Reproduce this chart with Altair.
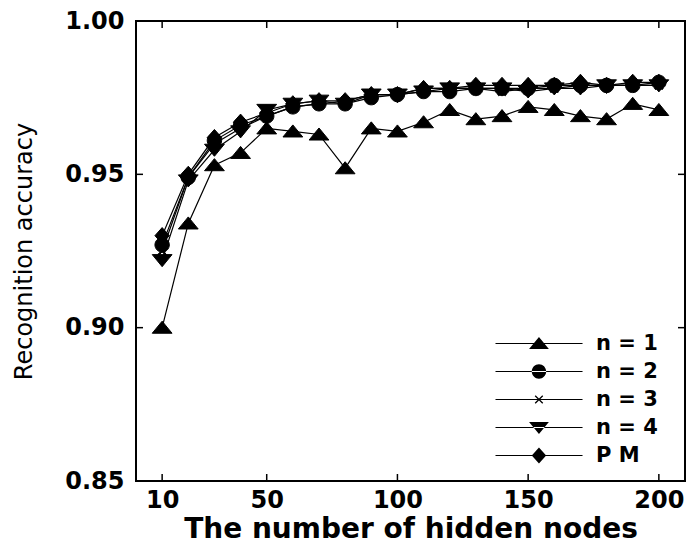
import altair as alt
import pandas as pd

nodes = [10, 20, 30, 40, 50, 60, 70, 80, 90, 100,
         110, 120, 130, 140, 150, 160, 170, 180, 190, 200]
acc_n1 = [0.900, 0.934, 0.953, 0.957, 0.965, 0.964, 0.963, 0.952, 0.965, 0.964,
          0.967, 0.971, 0.968, 0.969, 0.972, 0.971, 0.969, 0.968, 0.973, 0.971]
acc_n2 = [0.927, 0.949, 0.961, 0.966, 0.969, 0.972, 0.973, 0.973, 0.975, 0.976,
          0.977, 0.977, 0.978, 0.978, 0.978, 0.979, 0.979, 0.979, 0.979, 0.980]
acc_n3 = [0.925, 0.949, 0.960, 0.965, 0.969, 0.972, 0.973, 0.974, 0.976, 0.976,
          0.978, 0.978, 0.978, 0.977, 0.978, 0.978, 0.979, 0.979, 0.979, 0.979]
acc_n4 = [0.922, 0.948, 0.958, 0.964, 0.971, 0.973, 0.974, 0.973, 0.976, 0.976,
          0.977, 0.978, 0.978, 0.978, 0.977, 0.978, 0.978, 0.979, 0.979, 0.979]
acc_pm = [0.930, 0.950, 0.962, 0.967, 0.970, 0.973, 0.974, 0.974, 0.976, 0.976,
          0.978, 0.978, 0.979, 0.979, 0.979, 0.979, 0.980, 0.979, 0.980, 0.980]
series_names = ["n = 1", "n = 2", "n = 3", "n = 4", "P M"]
x_ticks = [10, 50, 100, 150, 200]
y_ticks = [0.85, 0.90, 0.95, 1.00]

rows = []
for name, vals in zip(series_names, [acc_n1, acc_n2, acc_n3, acc_n4, acc_pm]):
    for n, v in zip(nodes, vals):
        rows.append({"nodes": n, "acc": v, "series": name})
df = pd.DataFrame(rows)


def shift(path_pts, dx):
    """Closed filled polygon from unit points, shifted by dx."""
    pts = [f"{x + dx:.3f},{y:.3f}" for x, y in path_pts]
    return "M" + "L".join(pts) + "Z"


TRI_UP_P = [(0, -0.72), (1.1, 0.62), (-1.1, 0.62)]
TRI_DOWN_P = [(0, 0.72), (1.1, -0.62), (-1.1, -0.62)]
DIAMOND_P = [(0, -0.9), (0.8, 0), (0, 0.9), (-0.8, 0)]
W = 0.05
XBAR1 = [(-0.42 + W, -0.42 - W), (0.42 + W, 0.42 - W), (0.42 - W, 0.42 + W), (-0.42 - W, -0.42 + W)]
XBAR2 = [(-0.42 - W, 0.42 - W), (0.42 - W, -0.42 - W), (0.42 + W, -0.42 + W), (-0.42 + W, 0.42 + W)]


def circle(cx, r=0.8):
    return (f"M{cx - r:.3f},0A{r},{r} 0 1,0 {cx + r:.3f},0"
            f"A{r},{r} 0 1,0 {cx - r:.3f},0Z")


# marker shapes (unit = sqrt(size)/2)
TRI_UP = shift(TRI_UP_P, 0)
CIRCLE = circle(0)
XMARK = shift(XBAR1, 0) + shift(XBAR2, 0)
TRI_DOWN = shift(TRI_DOWN_P, 0)
DIAMOND = shift(DIAMOND_P, 0)

# legend symbols: thin filled line + marker
MC = 3.83
LN = "M-1,-0.06H8.67V0.06H-1Z"
LEG_PATHS = [
    LN + shift(TRI_UP_P, MC),
    LN + circle(MC),
    LN + shift(XBAR1, MC) + shift(XBAR2, MC),
    LN + shift(TRI_DOWN_P, MC),
    LN + shift(DIAMOND_P, MC),
]

FONT = "DejaVu Sans"

xscale = alt.Scale(domain=[0, 210], nice=False, zero=False)
yscale = alt.Scale(domain=[0.85, 1.0], nice=False, zero=False)

xaxis = alt.Axis(values=x_ticks, ticks=False, domain=False, grid=False,
                 labelFont=FONT, labelFontSize=24, labelFontWeight="bold",
                 labelColor="black", labelPadding=7, labelOverlap=False,
                 labelFlush=False, labelBound=False,
                 title="The number of hidden nodes", titleFont=FONT,
                 titleFontSize=28, titleFontWeight="bold", titleColor="black",
                 titlePadding=3)
yaxis = alt.Axis(values=y_ticks, format=".2f", ticks=False, domain=False,
                 grid=False, labelFont=FONT, labelFontSize=24,
                 labelFontWeight="bold", labelColor="black", labelPadding=12,
                 labelOverlap=False, labelFlush=False, labelBound=False,
                 title="Recognition accuracy", titleFont=FONT,
                 titleFontSize=24, titleFontWeight="normal",
                 titleColor="black", titlePadding=28)

base = alt.Chart(df)

lines = base.mark_line(color="black", strokeWidth=1.2).encode(
    x=alt.X("nodes:Q", scale=xscale, axis=xaxis),
    y=alt.Y("acc:Q", scale=yscale, axis=yaxis),
    detail="series:N",
)

points = base.mark_point(fill="black", stroke="black", strokeWidth=1,
                         opacity=1, fillOpacity=1, size=324).encode(
    x=alt.X("nodes:Q", scale=xscale),
    y=alt.Y("acc:Q", scale=yscale),
    shape=alt.Shape(
        "series:N",
        scale=alt.Scale(domain=series_names,
                        range=[TRI_UP, CIRCLE, XMARK, TRI_DOWN, DIAMOND]),
        legend=None,
    ),
)

legend_layer = base.transform_filter("false").mark_point(
    filled=True, color="black", opacity=1, size=324
).encode(
    x=alt.X("nodes:Q", scale=xscale),
    y=alt.Y("acc:Q", scale=yscale),
    shape=alt.Shape(
        "series:N",
        scale=alt.Scale(domain=series_names, range=LEG_PATHS),
        legend=alt.Legend(
            orient="none", legendX=358, legendY=312, title=None,
            symbolSize=324, labelOffset=81, labelFont=FONT,
            labelFontSize=21, labelFontWeight="bold", labelColor="black",
            rowPadding=6, padding=0,
            symbolFillColor="black", symbolOpacity=1,
        ),
    ),
)

xt = pd.DataFrame({"t": x_ticks})
yt = pd.DataFrame({"t": y_ticks})
tick_style = dict(color="black", thickness=1.5, size=14, clip=True, opacity=1)
tick_bottom = alt.Chart(xt).mark_tick(orient="vertical", **tick_style).encode(
    x=alt.X("t:Q", scale=xscale), y=alt.datum(0.85))
tick_top = alt.Chart(xt).mark_tick(orient="vertical", **tick_style).encode(
    x=alt.X("t:Q", scale=xscale), y=alt.datum(1.0))
tick_left = alt.Chart(yt).mark_tick(orient="horizontal", **tick_style).encode(
    y=alt.Y("t:Q", scale=yscale), x=alt.datum(0))
tick_right = alt.Chart(yt).mark_tick(orient="horizontal", **tick_style).encode(
    y=alt.Y("t:Q", scale=yscale), x=alt.datum(210))

chart = alt.layer(
    lines, points, legend_layer, tick_bottom, tick_top, tick_left, tick_right
).resolve_scale(shape="independent").properties(
    width=549, height=460,
    autosize=alt.AutoSizeParams(type="none"),
    padding={"left": 136, "top": 21, "right": 6, "bottom": 63},
    background="white",
).configure_view(stroke="black", strokeWidth=2)

chart.save("out.html", embed_options={"renderer": "svg", "actions": False})
